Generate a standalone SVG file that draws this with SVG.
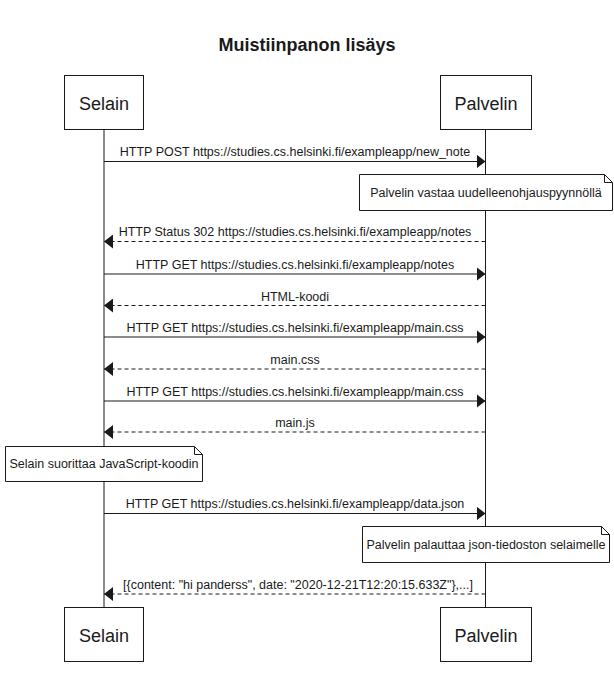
<svg xmlns="http://www.w3.org/2000/svg" width="614" height="673" viewBox="0 0 614 673">
<style>
text{font-family:"Liberation Sans",Arial,sans-serif;fill:#1a1a1a}
.title{font-size:18px;font-weight:bold;text-anchor:middle}
.actor rect{fill:#fff;stroke:#1a1a1a;stroke-width:1}
.actor text{font-size:18px;text-anchor:middle}
.life{stroke:#1a1a1a;stroke-width:1}
.msg{stroke:#1a1a1a;stroke-width:1;fill:none}
.dash{stroke-dasharray:4 3}
.lbl{font-size:12.5px;text-anchor:middle}
.note path{fill:#fff;stroke:#1a1a1a;stroke-width:1}
.note text{font-size:12.5px;text-anchor:middle}
</style>
<defs>
<marker id="ah" viewBox="0 0 9 14" refX="9" refY="7" markerWidth="9" markerHeight="14" markerUnits="userSpaceOnUse" orient="auto">
<path d="M0,0 L9,7 L0,14 Z" fill="#1a1a1a"/>
</marker>
</defs>
<rect width="614" height="673" fill="#fff"/>
<text class="title" x="307" y="51">Muistiinpanon lisäys</text>
<g id="lifelines">
<line class="life" x1="104" y1="129" x2="104" y2="607"/>
<line class="life" x1="485.5" y1="129" x2="485.5" y2="607"/>
</g>
<g id="selain-top" class="actor"><rect x="64.5" y="75.5" width="79" height="54"/><text x="104" y="110">Selain</text></g>
<g id="palvelin-top" class="actor"><rect x="440.5" y="75.5" width="91" height="54"/><text x="486" y="110">Palvelin</text></g>
<g id="selain-bottom" class="actor"><rect x="64.5" y="607.5" width="79" height="54"/><text x="104" y="642">Selain</text></g>
<g id="palvelin-bottom" class="actor"><rect x="440.5" y="607.5" width="91" height="54"/><text x="486" y="642">Palvelin</text></g>
<g id="connectors">
<line class="msg" x1="104" y1="161.5" x2="485.5" y2="161.5" marker-end="url(#ah)"/>
<text class="lbl" x="295" y="156">HTTP POST https://studies.cs.helsinki.fi/exampleapp/new_note</text>
<line class="msg dash" x1="485.5" y1="241.5" x2="104" y2="241.5" marker-end="url(#ah)"/>
<text class="lbl" x="295" y="236">HTTP Status 302 https://studies.cs.helsinki.fi/exampleapp/notes</text>
<line class="msg" x1="104" y1="274" x2="485.5" y2="274" marker-end="url(#ah)"/>
<text class="lbl" x="295" y="268.5">HTTP GET https://studies.cs.helsinki.fi/exampleapp/notes</text>
<line class="msg dash" x1="485.5" y1="305.5" x2="104" y2="305.5" marker-end="url(#ah)"/>
<text class="lbl" x="295" y="300.5">HTML-koodi</text>
<line class="msg" x1="104" y1="337" x2="485.5" y2="337" marker-end="url(#ah)"/>
<text class="lbl" x="295" y="331.5">HTTP GET https://studies.cs.helsinki.fi/exampleapp/main.css</text>
<line class="msg dash" x1="485.5" y1="369" x2="104" y2="369" marker-end="url(#ah)"/>
<text class="lbl" x="295" y="364">main.css</text>
<line class="msg" x1="104" y1="401" x2="485.5" y2="401" marker-end="url(#ah)"/>
<text class="lbl" x="295" y="395.5">HTTP GET https://studies.cs.helsinki.fi/exampleapp/main.css</text>
<line class="msg dash" x1="485.5" y1="432" x2="104" y2="432" marker-end="url(#ah)"/>
<text class="lbl" x="295" y="427">main.js</text>
<line class="msg" x1="104" y1="513.5" x2="485.5" y2="513.5" marker-end="url(#ah)"/>
<text class="lbl" x="295" y="508">HTTP GET https://studies.cs.helsinki.fi/exampleapp/data.json</text>
<line class="msg dash" x1="485.5" y1="594" x2="104" y2="594" marker-end="url(#ah)"/>
<text class="lbl" x="298" y="588.5">[{content: "hi panderss", date: "2020-12-21T12:20:15.633Z"},...]</text>
</g>
<g id="note-redirect" class="note">
<path d="M359.5,174.5 H604.5 L612.5,182.5 V210.5 H359.5 Z M604.5,174.5 V182.5 H612.5"/>
<text x="486" y="197">Palvelin vastaa uudelleenohjauspyynnöllä</text>
</g>
<g id="note-js" class="note">
<path d="M5.5,446.5 H194.5 L202.5,454.5 V481.5 H5.5 Z M194.5,446.5 V454.5 H202.5"/>
<text x="104" y="468">Selain suorittaa JavaScript-koodin</text>
</g>
<g id="note-json" class="note">
<path d="M362.5,526.5 H601.5 L609.5,534.5 V562.5 H362.5 Z M601.5,526.5 V534.5 H609.5"/>
<text x="486" y="549">Palvelin palauttaa json-tiedoston selaimelle</text>
</g>
</svg>
